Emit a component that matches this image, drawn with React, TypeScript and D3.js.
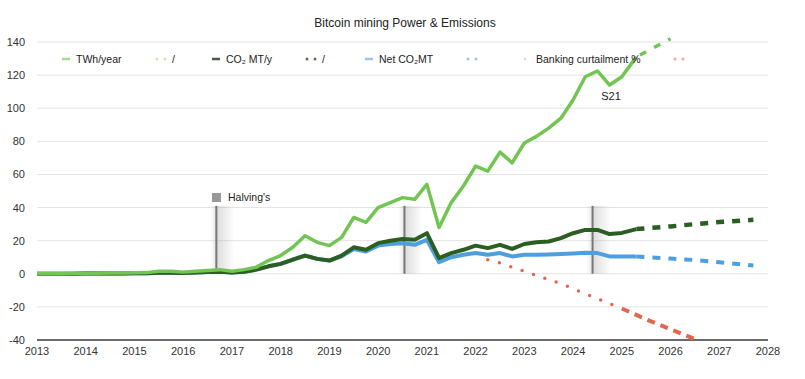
import React from "react";
import * as d3 from "d3";

// ---------- data ----------
const dates = [
  2013, 2013.25, 2013.5, 2013.75,
  2014, 2014.25, 2014.5, 2014.75,
  2015, 2015.25, 2015.5, 2015.75,
  2016, 2016.25, 2016.5, 2016.75,
  2017, 2017.25, 2017.5, 2017.75,
  2018, 2018.25, 2018.5, 2018.75,
  2019, 2019.25, 2019.5, 2019.75,
  2020, 2020.25, 2020.5, 2020.75,
  2021, 2021.25, 2021.5, 2021.75,
  2022, 2022.25, 2022.5, 2022.75,
  2023, 2023.25, 2023.5, 2023.75,
  2024, 2024.25, 2024.5, 2024.75,
  2025, 2025.3,
];
const twhYear = [
  0, 0, 0, 0.1,
  0.2, 0.3, 0.4, 0.5,
  0.6, 0.7, 1.5, 1.5,
  1, 1.5, 2, 2.5,
  1.5, 2.5, 4, 8,
  11, 16, 23, 19,
  17, 22, 34, 31,
  40, 43, 46, 45,
  54, 28, 43, 53,
  65, 62, 73.5, 67,
  79, 83, 88, 94,
  105, 119, 122.5, 114,
  119, 131,
];
const co2MtY = [
  0, 0, 0, 0,
  0.1, 0.1, 0.2, 0.2,
  0.3, 0.3, 0.6, 0.6,
  0.5, 0.7, 1, 1.2,
  0.7, 1.2, 2.5, 4.5,
  6, 8.5, 11, 9,
  8, 11, 16, 14.5,
  18.5, 20, 21, 20.5,
  24.5, 9.5, 12.5, 14.5,
  17, 15.5, 17.5, 15,
  18, 19, 19.5, 21.5,
  24.5, 26.5, 26.5, 24,
  24.7, 27,
];
const netCo2Mt = [
  0, 0, 0, 0,
  0.1, 0.1, 0.2, 0.2,
  0.3, 0.3, 0.6, 0.6,
  0.5, 0.7, 1, 1.2,
  0.7, 1.2, 2.5, 4.5,
  6, 8.5, 11, 9,
  8, 10.5, 15, 13.5,
  17, 18, 18.5, 17.5,
  20.5, 7, 10, 11.5,
  12.5, 11.5, 12.5, 10.5,
  11.5, 11.5, 11.7, 12,
  12.3, 12.7, 12.5, 10.5,
  10.5, 10.5,
];

const twhProjDates = [2025.3, 2026.0];
const twhProj = [131, 142];
const co2ProjDates = [2025.3, 2026, 2026.5, 2027, 2027.7];
const co2Proj = [27, 28.6, 30, 31.3, 32.6];
const netProjDates = [2025.3, 2026, 2026.5, 2027, 2027.7];
const netProj = [10.5, 9.2, 8.3, 7, 5];

const curtDates = [2022.25, 2022.5, 2022.75, 2023, 2023.25, 2023.5, 2023.75, 2024, 2024.25, 2024.5, 2024.75, 2025];
const curtailment = [8.5, 6.5, 4, 1.5, -1, -3.5, -6, -9, -12, -15, -18, -21];
const curtProjDates = [2025, 2025.5, 2026, 2026.55];
const curtProj = [-21, -27.5, -33.5, -40];

const halvings = [2016.68, 2020.54, 2024.4];
const yTicks = [140, 120, 100, 80, 60, 40, 20, 0, -20, -40];
const xTicks = [2013, 2014, 2015, 2016, 2017, 2018, 2019, 2020, 2021, 2022, 2023, 2024, 2025, 2026, 2027, 2028];

// ---------- styles ----------
const LIGHT = "#72c552";
const DARK = "#2b5f22";
const BLUE = "#4d9fe0";
const RED = "#e2674f";
const FONT = "'Liberation Sans', Arial, Helvetica, sans-serif";

export default function App() {
  const W = 805, H = 379;
  const x = d3.scaleLinear().domain([2013, 2028]).range([37, 768]);
  const y = d3.scaleLinear().domain([-40, 140]).range([340, 42]);

  const line = (xs: number[], ys: number[]) =>
    d3.line<number>().x((_, i) => x(xs[i])).y((v) => y(v))(ys) || "";

  const legendItems = [
    { sx: 62, tx: 76, label: "TWh/year", kind: "solid", color: "#a6da8f" },
    { sx: 157, tx: 172, label: "/", kind: "dots", color: "#c9e8b9" },
    { sx: 212, tx: 226, label: "CO₂ MT/y", kind: "solid", color: "#4b5a46" },
    { sx: 307, tx: 322, label: "/", kind: "dots", color: "#5c6d57" },
    { sx: 365, tx: 379, label: "Net CO₂MT", kind: "solid", color: "#9fc6ea" },
    { sx: 468, tx: 0, label: "", kind: "dots", color: "#a9c3dc" },
    { sx: 525, tx: 536, label: "Banking curtailment %", kind: "dot", color: "#d8d8d8" },
    { sx: 675, tx: 0, label: "", kind: "dots", color: "#eeaaa0" },
  ];

  return (
    <svg
      width={W}
      height={H}
      style={{ position: "absolute", left: 0, top: 0, background: "#fff" }}
      fontFamily={FONT}
    >
      <defs>
        <linearGradient id="shade" x1="0" x2="1" y1="0" y2="0">
          <stop offset="0" stopColor="#9a9a9a" stopOpacity="0.35" />
          <stop offset="1" stopColor="#9a9a9a" stopOpacity="0" />
        </linearGradient>
        <linearGradient id="shadeL" x1="1" x2="0" y1="0" y2="0">
          <stop offset="0" stopColor="#9a9a9a" stopOpacity="0.25" />
          <stop offset="1" stopColor="#9a9a9a" stopOpacity="0" />
        </linearGradient>
      </defs>
      <rect width={W} height={H} fill="#fff" />

      <text x={405} y={27} textAnchor="middle" fontSize={12} fill="#222">
        Bitcoin mining Power &amp; Emissions
      </text>

      {/* grid */}
      {yTicks.map((t) => (
        <g key={t}>
          <line
            x1={x(2013)}
            x2={x(2028)}
            y1={y(t)}
            y2={y(t)}
            stroke={t === -40 ? "#6b6b6b" : "#e3e3e3"}
            strokeWidth={t === -40 ? 2 : 1}
          />
          <text x={25} y={y(t) + 4} textAnchor="end" fontSize={11} fill="#333">
            {t}
          </text>
        </g>
      ))}
      {xTicks.map((t) => (
        <text key={t} x={x(t)} y={355} textAnchor="middle" fontSize={11} fill="#333">
          {t}
        </text>
      ))}

      {/* halving markers */}
      {halvings.map((h) => (
        <g key={h}>
          <rect x={x(h) - 6} y={y(41)} width={6} height={y(0) - y(41)} fill="url(#shadeL)" />
          <rect x={x(h)} y={y(41)} width={18} height={y(0) - y(41)} fill="url(#shade)" />
          <line x1={x(h)} x2={x(h)} y1={y(41)} y2={y(0)} stroke="#777" strokeWidth={2} />
        </g>
      ))}
      <rect x={212} y={193} width={9} height={9} fill="#999" />
      <text x={228} y={201} fontSize={10.5} fill="#222">
        Halving's
      </text>

      {/* projections */}
      <path d={line(netProjDates, netProj)} fill="none" stroke={BLUE} strokeWidth={4} strokeDasharray="8 8" />
      <path d={line(co2ProjDates, co2Proj)} fill="none" stroke={DARK} strokeWidth={4.5} strokeDasharray="8 8" />
      <path d={line(twhProjDates, twhProj)} fill="none" stroke={LIGHT} strokeWidth={3.5} strokeDasharray="7 9" strokeDashoffset={-4} />
      <path d={line(curtProjDates, curtProj)} fill="none" stroke={RED} strokeWidth={4} strokeDasharray="8 6" />

      {/* main series */}
      <path d={line(dates, netCo2Mt)} fill="none" stroke={BLUE} strokeWidth={4} strokeLinejoin="round" />
      <path d={line(dates, co2MtY)} fill="none" stroke={DARK} strokeWidth={4} strokeLinejoin="round" />
      <path d={line(dates, twhYear)} fill="none" stroke={LIGHT} strokeWidth={3.5} strokeLinejoin="round" />
      <path
        d={line(curtDates, curtailment)}
        fill="none"
        stroke={RED}
        strokeWidth={3.5}
        strokeLinecap="round"
        strokeDasharray="0 12"
      />

      <text x={611} y={100} textAnchor="middle" fontSize={11} fill="#222">
        S21
      </text>

      {/* legend */}
      {legendItems.map((it, i) => (
        <g key={i}>
          {it.kind === "solid" && (
            <line x1={it.sx} x2={it.sx + 8} y1={59} y2={59} stroke={it.color} strokeWidth={2.5} />
          )}
          {it.kind === "dots" && (
            <g>
              <circle cx={it.sx} cy={59} r={1.5} fill={it.color} />
              <circle cx={it.sx + 8} cy={59} r={1.5} fill={it.color} />
            </g>
          )}
          {it.kind === "dot" && <circle cx={it.sx} cy={59} r={1.3} fill={it.color} />}
          {it.label && (
            <text x={it.tx} y={63} fontSize={10.5} fill="#222">
              {it.label}
            </text>
          )}
        </g>
      ))}
    </svg>
  );
}
